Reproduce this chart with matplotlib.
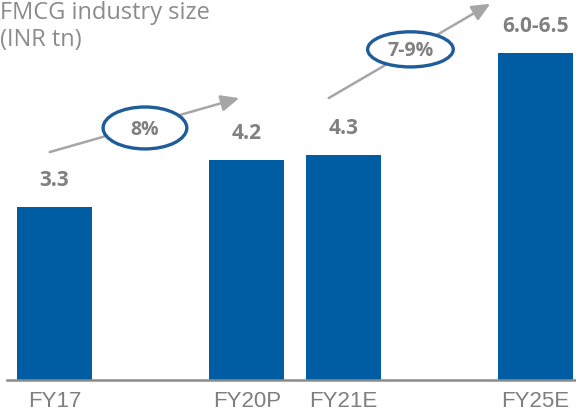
import matplotlib.pyplot as plt
from matplotlib.patches import Ellipse

# data
years = ["FY17", "FY20P", "FY21E", "FY25E"]
positions = [0, 2, 3, 5]
sizes = [3.3, 4.2, 4.3, 6.25]
size_labels = ["3.3", "4.2", "4.3", "6.0-6.5"]
growth_labels = ["8%", "7-9%"]

blue = "#005DA4"
gray_txt = "#808080"
arrow_gray = "#A6A6A6"

fig = plt.figure(figsize=(5.76, 4.18), dpi=100)
ax = fig.add_axes([7 / 576, 38 / 418, 569 / 576, 380 / 418])

ax.bar(positions, sizes, width=0.78, color=blue, zorder=2)

for x, v, lab in zip(positions, sizes, size_labels):
    ax.annotate(lab, (x, v), xytext=(0, 19), textcoords="offset points",
                ha="center", va="center", fontsize=15, fontweight="bold",
                color=gray_txt, family="Open Sans")

# growth arrows with circled CAGR
arrows = [((-0.05, 4.35), (1.92, 5.38)), ((2.85, 5.38), (4.53, 7.18))]
ellipses = [((0.94, 4.81), 0.87, 0.80), ((3.70, 6.31), 0.89, 0.67)]
for (start, tip), (c, w, h), lab in zip(arrows, ellipses, growth_labels):
    ax.annotate("", xy=tip, xytext=start,
                arrowprops=dict(arrowstyle="-|>,head_length=1.0,head_width=0.45",
                                color=arrow_gray, lw=1.8, mutation_scale=11,
                                shrinkA=0, shrinkB=0),
                annotation_clip=False, zorder=3)
    ax.add_patch(Ellipse(c, w, h, facecolor="white", edgecolor="#1F5C9B",
                         lw=2.4, zorder=4))
    ax.text(c[0], c[1] - 0.03, lab, ha="center", va="center", fontsize=14,
            fontweight="bold", color=gray_txt, family="Open Sans", zorder=5)

ax.set_xlim(-0.494, 5.421)
ax.set_ylim(0, 7.252)
ax.set_xticks(positions)
ax.set_xticklabels(years, fontsize=16, color="#7F7F7F", family="Liberation Sans")
ax.tick_params(axis="x", length=0, pad=8)
ax.set_yticks([])
for s in ["top", "right", "left"]:
    ax.spines[s].set_visible(False)
ax.spines["bottom"].set_color("#8C8C8C")
ax.spines["bottom"].set_linewidth(1.8)
ax.patch.set_alpha(0)

fig.text(0.0, 1 - 19 / 418, "FMCG industry size", fontsize=17,
         color="#8C8C8C", family="Open Sans", va="baseline")
fig.text(0.0, 1 - 46 / 418, "(INR tn)", fontsize=17,
         color="#8C8C8C", family="Open Sans", va="baseline")

fig.savefig("out.png", dpi=100)
